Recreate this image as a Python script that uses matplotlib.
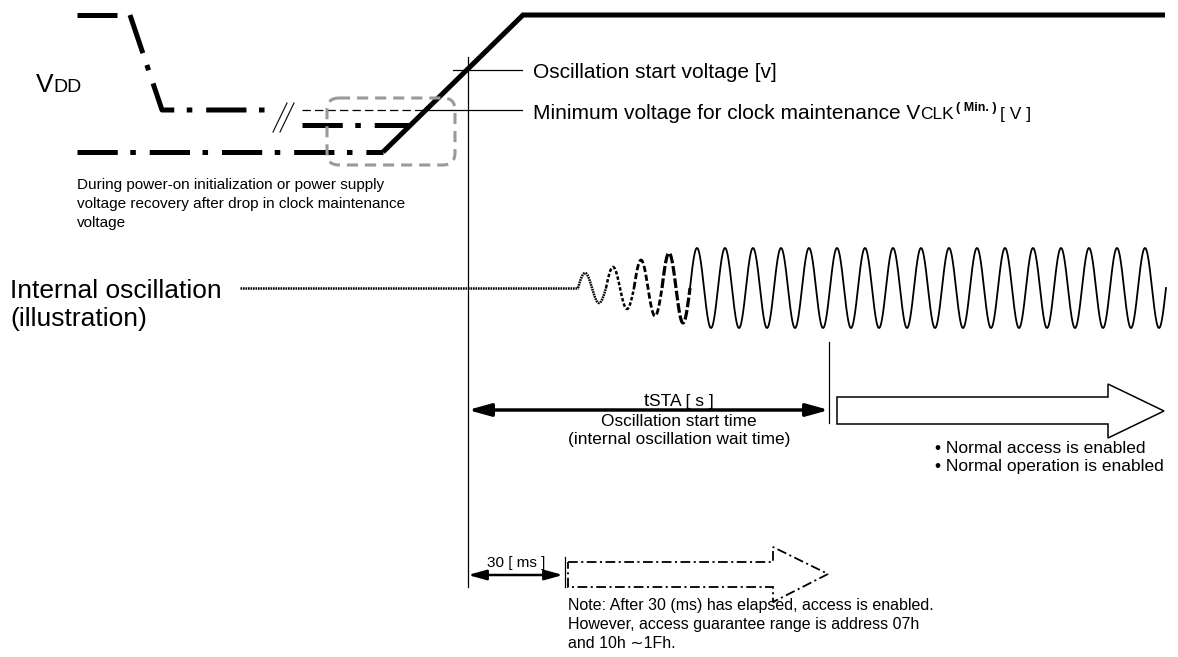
import numpy as np
import matplotlib
matplotlib.use("Agg")
import matplotlib.pyplot as plt
from matplotlib.patches import FancyBboxPatch, Polygon

plt.rcParams['font.family'] = ['Liberation Sans', 'DejaVu Sans']
plt.rcParams['lines.scale_dashes'] = False

# ---- diagram data (pixel coordinates of the drawing, y grows downward) ----
# VDD traces
drop_x = [130, 162, 265]
drop_y = [15, 110, 110]
top_left_x = [77, 117]
top_left_y = [15, 15]
mid_x = [302, 410]
mid_y = [125, 125]
low_x = [77, 383]
low_y = [152, 152]
ramp_x = [383, 523, 1165]
ramp_y = [152, 15, 15]

# reference levels
osc_level = 70
clk_level = 110
start_x = 468          # oscillation start moment
sta_x = 829            # end of tSTA
ms30_x = 565           # 30 ms point

# internal oscillation: cycles of the start-up and steady part
osc_base = 288
osc_x0 = 578
osc_period = 28
ramp_amps = [15, 21, 28, 35]
full_amp = 40
full_cycles = 17

bullets = ["\u2022 Normal access is enabled", "\u2022 Normal operation is enabled"]
note_lines = ["Note: After 30 (ms) has elapsed, access is enabled.",
              "However, access guarantee range is address 07h",
              "and 10h \u223c1Fh."]
during_lines = ["During power-on initialization or power supply",
                "voltage recovery after drop in clock maintenance",
                "voltage"]

fig = plt.figure(figsize=(11.78, 6.57), dpi=100)
ax = fig.add_axes([0, 0, 1, 1])
ax.set_xlim(0, 1178)
ax.set_ylim(657, 0)
ax.axis('off')
r = fig.canvas.get_renderer()


def rich(x, y, parts, ha='left'):
    # parts: (text, size, weight, dy, gap after)
    texts = []
    cx = x
    for s, size, weight, dy, gap in parts:
        t = ax.text(cx, y + dy, s, fontsize=size, fontweight=weight,
                    va='baseline', ha='left')
        cx += t.get_window_extent(renderer=r).width + gap
        texts.append(t)
    if ha == 'center':
        shift = (cx - x) / 2
        for t in texts:
            px, py = t.get_position()
            t.set_position((px - shift, py))


thick = 3.6
dashdot = (0, (29, 9, 4, 10))
ax.plot(top_left_x, top_left_y, color='k', lw=thick, solid_capstyle='butt')
ax.plot(drop_x, drop_y, color='k', lw=thick, linestyle=dashdot,
        dash_capstyle='butt', solid_joinstyle='miter')
ax.plot(mid_x, mid_y, color='k', lw=thick, linestyle=dashdot, dash_capstyle='butt')
ax.plot(low_x, low_y, color='k', lw=thick, linestyle=dashdot, dash_capstyle='butt')
ax.plot(ramp_x, ramp_y, color='k', lw=thick, solid_capstyle='butt',
        solid_joinstyle='miter')

# break mark
ax.plot([273, 287], [132, 103], color='k', lw=0.8)
ax.plot([280, 294], [132, 103], color='k', lw=0.8)

# clock-maintenance level: dashed before the ramp, solid after
ax.plot([302, 426], [clk_level, clk_level], color='k', lw=0.9, linestyle=(0, (6, 3)))
ax.plot([426, 522], [clk_level, clk_level], color='k', lw=0.9)
ax.plot([453, 522], [osc_level, osc_level], color='k', lw=0.9)
ax.plot([start_x, start_x], [57, 587], color='k', lw=0.9)

box = FancyBboxPatch((327, 98), 128, 67, boxstyle="round,pad=0,rounding_size=12",
                     fill=False, edgecolor='#9a9a9a', lw=2.2,
                     linestyle=(0, (8, 5)), zorder=5)
ax.add_patch(box)

rich(36, 92, [("V", 19, 'normal', 0, 0), ("DD", 14, 'normal', 0, 0)])
rich(533, 78, [("Oscillation start voltage [v]", 15, 'normal', 0, 0)])
rich(533, 119, [("Minimum voltage for clock maintenance V", 15, 'normal', 0, 0),
                ("CLK", 12.5, 'normal', 0, 2),
                ("( Min. )", 9, 'bold', -8, 3),
                ("[ V ]", 12.5, 'normal', 0, 0)])
for i, s in enumerate(during_lines):
    ax.text(77, 189 + i * 19, s, fontsize=11, va='baseline')

ax.text(10, 298, "Internal oscillation", fontsize=19, va='baseline')
ax.text(10, 326, "(illustration)", fontsize=19, va='baseline')

# oscillation waveform
ax.plot([240, osc_x0], [osc_base, osc_base], color='k', lw=1.8, linestyle=(0, (1.2, 0.6)))
styles = [((0, (1.2, 0.6)), 1.8), ((0, (2.5, 1.5)), 1.8),
          ((0, (4.5, 2)), 2.0), ((0, (7, 2)), 2.3)]
for k, a in enumerate(ramp_amps):
    xs = np.linspace(osc_x0 + k * osc_period, osc_x0 + (k + 1) * osc_period, 60)
    ys = osc_base - a * np.sin(2 * np.pi * (xs - osc_x0) / osc_period)
    ax.plot(xs, ys, color='k', lw=styles[k][1], linestyle=styles[k][0], dash_capstyle='butt')
x_full0 = osc_x0 + len(ramp_amps) * osc_period
xs = np.linspace(x_full0, x_full0 + full_cycles * osc_period, 2000)
ax.plot(xs, osc_base - full_amp * np.sin(2 * np.pi * (xs - osc_x0) / osc_period),
        color='k', lw=1.3)

# tSTA
ax.plot([sta_x, sta_x], [342, 423], color='k', lw=0.9)
ax.annotate('', xy=(start_x, 410), xytext=(sta_x, 410),
            arrowprops=dict(arrowstyle='<|-|>,head_length=0.9,head_width=0.25',
                            lw=2.5, color='k', shrinkA=0, shrinkB=0, mutation_scale=15))
rich(679, 406, [("t", 14, 'normal', 0, 0), ("STA [ s ]", 12.5, 'normal', 0, 0)], ha='center')
ax.text(679, 426, "Oscillation start time", fontsize=12.4, ha='center', va='baseline')
ax.text(679, 444, "(internal oscillation wait time)", fontsize=12.4, ha='center', va='baseline')

big = Polygon([(837, 397), (1108, 397), (1108, 384), (1164, 411),
               (1108, 438), (1108, 424), (837, 424)], closed=True,
              facecolor='white', edgecolor='k', lw=1.1)
ax.add_patch(big)
for i, s in enumerate(bullets):
    ax.text(935, 453 + i * 18, s, fontsize=12.5, va='baseline')

# 30 ms
ax.plot([ms30_x, ms30_x], [557, 587], color='k', lw=0.9)
ax.annotate('', xy=(start_x, 575), xytext=(ms30_x - 2, 575),
            arrowprops=dict(arrowstyle='<|-|>,head_length=0.9,head_width=0.25',
                            lw=1.8, color='k', shrinkA=0, shrinkB=0, mutation_scale=12))
ax.text(516, 567, "30 [ ms ]", fontsize=11, ha='center', va='baseline')
dd = Polygon([(568, 562), (773, 562), (773, 547), (828, 574),
              (773, 602), (773, 587), (568, 587)], closed=True,
             facecolor='none', edgecolor='k', lw=1.3, linestyle=(0, (7, 2.5, 1.5, 2.5)))
ax.add_patch(dd)
for i, s in enumerate(note_lines):
    ax.text(568, 610 + i * 19, s, fontsize=11.5, va='baseline')

fig.savefig("out.png", dpi=100)
